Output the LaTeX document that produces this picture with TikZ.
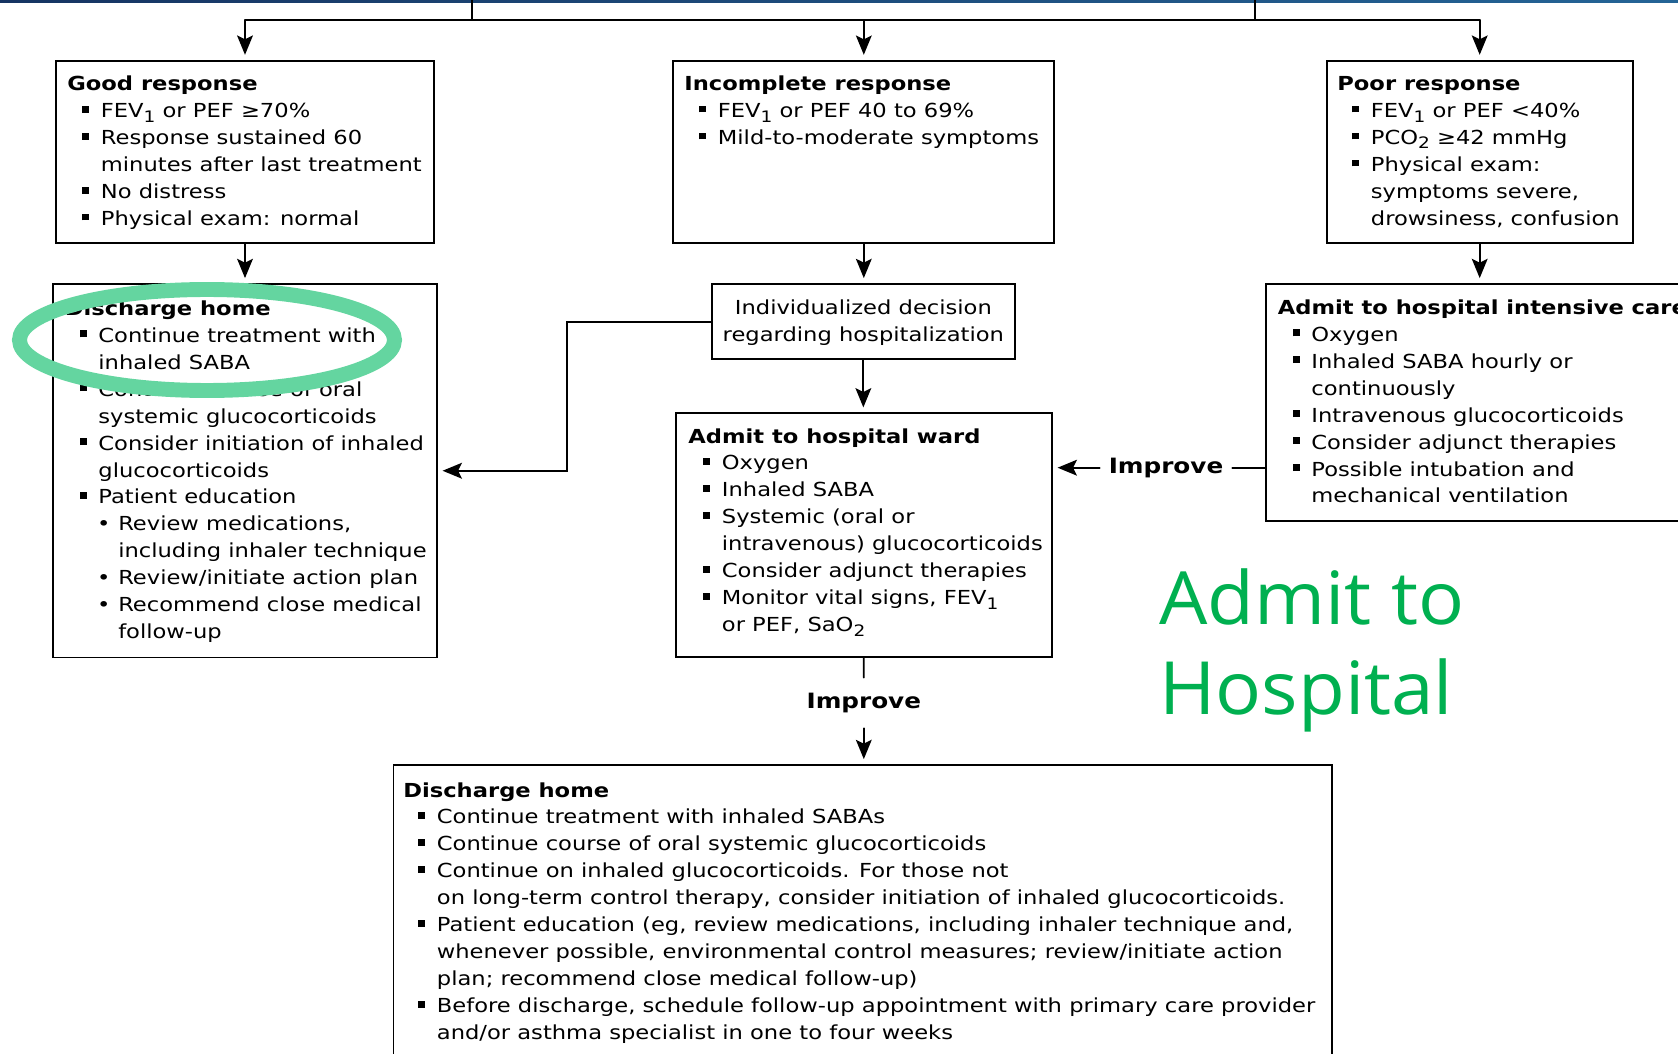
\documentclass[tikz,border=0pt]{standalone}
\usepackage{fontspec}
\setmainfont{DejaVu Sans}[FakeStretch=1.17]
\newfontfamily\bigsans{Open Sans}[FakeStretch=1.04]
\usepackage{tikz}
\usetikzlibrary{arrows.meta,fit}
\usepackage{xcolor}
\definecolor{barL}{RGB}{22,52,98}
\definecolor{barR}{RGB}{36,100,150}
\definecolor{mint}{RGB}{100,213,160}
\definecolor{admgreen}{RGB}{0,176,80}

\newcommand{\sqb}{\hspace*{8.5pt}\makebox[10.6pt][l]{\raisebox{2.85pt}{\rule{3.9pt}{3.9pt}}}}
\newcommand{\cnt}{\hspace*{19.1pt}}
\newcommand{\dotb}{\hspace*{18.3pt}\makebox[12.1pt][l]{•}}
\newcommand{\subcnt}{\hspace*{30.4pt}}
\newcommand{\lo}[1]{\raisebox{-2.6pt}{\fontsize{9}{9}\selectfont#1}}

\tikzset{
  panel/.style={draw,line width=1.1pt,inner sep=0pt},
  txt/.style={anchor=north west,inner sep=0pt,align=left},
  improve/.style={font=\fontsize{12}{15}\selectfont\bfseries,inner sep=0pt,minimum width=2.64cm,minimum height=1cm},
  link/.style={line width=1pt},
  arr/.style={link,->,shorten >=2.8pt},
}

\begin{document}
\begin{tikzpicture}[x=0.02cm,y=-0.02cm,>={Stealth[length=11pt,width=9pt,inset=2.2pt]},font=\fontsize{11}{15.34}\selectfont,line cap=round]
\useasboundingbox (0,0) rectangle (1678,1054);
\shade[left color=barL,right color=barR] (0,0) rectangle (1678,3);

\node[panel,fit={(55.7,60.7) (434.3,242.7)}] (good) {};
\node[panel,fit={(673.3,60.7) (1054.3,242.7)}] (incomplete) {};
\node[panel,fit={(1326.7,60.7) (1632.7,242.7)}] (poor) {};
\node[panel,fit={(53.3,284) (436.7,657.5)}] (dischome) {};
\node[panel,fit={(711.7,284) (1015,359.3)}] (decide) {};
\node[panel,fit={(675.7,413.3) (1051.7,657.3)}] (ward) {};
\node[panel,fit={(1266.3,284) (1700,520.7)}] (icu) {};
\node[panel,fit={(393.5,765) (1332,1070)}] (dischome2) {};

\node[txt] (goodtxt) at (67,71.5) {\strut\textbf{Good response}\\
\sqb FEV\lo{1} or PEF ≥70\%\\
\sqb Response sustained 60\\
\cnt minutes after last treatment\\
\sqb No distress\\
\sqb Physical exam: normal};
\node[txt] (incompletetxt) at (684,71.3) {\strut\textbf{Incomplete response}\\
\sqb FEV\lo{1} or PEF 40 to 69\%\\
\sqb Mild-to-moderate symptoms};
\node[txt] (poortxt) at (1337,71.3) {\strut\textbf{Poor response}\\
\sqb FEV\lo{1} or PEF <40\%\\
\sqb PCO\lo{2} ≥42 mmHg\\
\sqb Physical exam:\\
\cnt symptoms severe,\\
\cnt drowsiness, confusion};
\node[txt] (dischometxt) at (64.5,296.1) {\strut\textbf{Discharge home}\\
\sqb Continue treatment with\\
\cnt inhaled SABA\\
\sqb Continue course of oral\\
\cnt systemic glucocorticoids\\
\sqb Consider initiation of inhaled\\
\cnt glucocorticoids\\
\sqb Patient education\\
\dotb Review medications,\\
\subcnt including inhaler technique\\
\dotb Review/initiate action plan\\
\dotb Recommend close medical\\
\subcnt follow-up};
\node[txt,anchor=north,align=center] (decidetxt) at (863.35,295.4) {\strut Individualized decision\\regarding hospitalization};
\node[txt] (wardtxt) at (688,423.8) {\strut\textbf{Admit to hospital ward}\\
\sqb Oxygen\\
\sqb Inhaled SABA\\
\sqb Systemic (oral or\\
\cnt intravenous) glucocorticoids\\
\sqb Consider adjunct therapies\\
\sqb Monitor vital signs, FEV\lo{1}\\
\cnt or PEF, SaO\lo{2}};
\node[txt] (icutxt) at (1277.5,295.1) {\strut\textbf{Admit to hospital intensive care}\\
\sqb Oxygen\\
\sqb Inhaled SABA hourly or\\
\cnt continuously\\
\sqb Intravenous glucocorticoids\\
\sqb Consider adjunct therapies\\
\sqb Possible intubation and\\
\cnt mechanical ventilation};
\node[txt] (dischome2txt) at (403,777.8) {\strut\textbf{Discharge home}\\
\sqb Continue treatment with inhaled SABAs\\
\sqb Continue course of oral systemic glucocorticoids\\
\sqb Continue on inhaled glucocorticoids. For those not\\
\cnt on long-term control therapy, consider initiation of inhaled glucocorticoids.\\
\sqb Patient education (eg, review medications, including inhaler technique and,\\
\cnt whenever possible, environmental control measures; review/initiate action\\
\cnt plan; recommend close medical follow-up)\\
\sqb Before discharge, schedule follow-up appointment with primary care provider\\
\cnt and/or asthma specialist in one to four weeks};

\node[improve] (better1) at (1166,467.7) {Improve};
\node[improve] (better2) at (863.8,703) {Improve};

\coordinate (srcL) at (472,0);
\coordinate (srcR) at (1255.3,0);
\coordinate (rail) at (0,20);
\coordinate (jog) at (567,0);
\draw[link] (srcL) -- (srcL |- rail);
\draw[link] (srcR) -- (srcR |- rail);
\draw[link] (good.north |- rail) -- (poor.north |- rail);
\draw[arr] (good.north |- rail) -- (good.north);
\draw[arr] (incomplete.north |- rail) -- (incomplete.north);
\draw[arr] (poor.north |- rail) -- (poor.north);
\draw[arr] (good) -- (dischome);
\draw[arr] (incomplete.south) -- (incomplete.south |- decide.north);
\draw[arr] (decide.south) -- (decide.south |- ward.north);
\draw[arr] (poor.south) -- (poor.south |- icu.north);
\draw[arr] (decide.west) -- (decide.west -| jog) |- (dischome.east);
\draw[link] (icu.west |- better1) -- (better1.east);
\draw[arr] (better1.west) -- (ward.east |- better1);
\draw[link] (ward.south) -- (better2.north);
\draw[arr] (better2.south) -- (better2.south |- dischome2.north);

\draw[mint,line width=8.5pt] (207,340) ellipse [x radius=187.5,y radius=50.5];
\node[anchor=north west,inner sep=0pt,align=left,text=admgreen,font=\bigsans\fontsize{41.8}{51}\selectfont] (stamp) at (1159,561.6) {\strut Admit to\\Hospital};
\end{tikzpicture}
\end{document}
